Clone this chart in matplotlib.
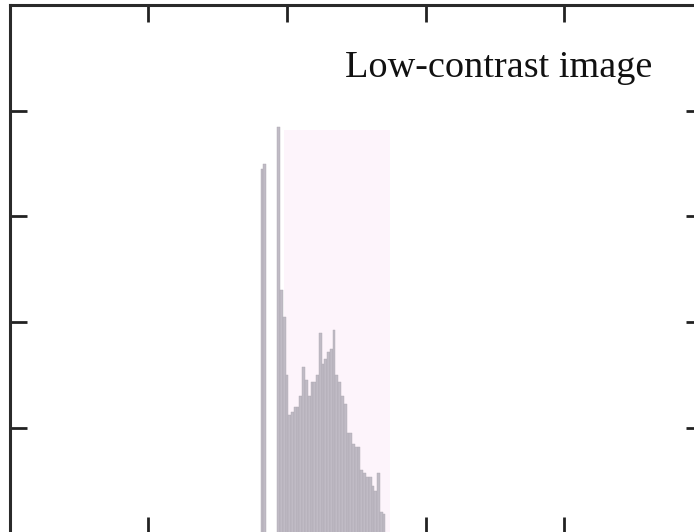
import numpy as np
import matplotlib.pyplot as plt

# histogram of the low-contrast image (grey level -> count, in thousands)
levels = list(range(91, 137))
counts = [3.45, 3.5, 0.0, 0.0, 0.0, 0.0, 3.85, 2.3, 2.05, 1.5,
          1.12, 1.15, 1.2, 1.2, 1.3, 1.58, 1.45, 1.3, 1.43, 1.43,
          1.5, 1.9, 1.6, 1.65, 1.72, 1.75, 1.93, 1.5, 1.43, 1.3,
          1.23, 0.95, 0.95, 0.85, 0.82, 0.82, 0.6, 0.57, 0.54, 0.54,
          0.45, 0.4, 0.57, 0.2, 0.19, 0.0]
span_lo, span_hi, span_top = 99, 137, 3.82

fig = plt.figure(figsize=(6.94, 5.32), dpi=100)
ax = fig.add_axes([0.0138, -0.003, 0.9992, 0.9936])

ax.axvspan(span_lo, span_hi, ymax=span_top / 5, color='#fdf4fb', lw=0, zorder=0)
ax.bar(levels, counts, width=1.0, color='#c0bbc5', edgecolor='#aca7b1',
       linewidth=0.3, zorder=2)

ax.set_xlim(0, 250)
ax.set_ylim(0, 5)
ax.set_xticks([50, 100, 150, 200])
ax.set_yticks([1, 2, 3, 4])
ax.tick_params(direction='in', length=12, width=2, color='#222222',
               top=True, right=True, labelbottom=False, labelleft=False)
for s in ax.spines.values():
    s.set_linewidth(2.2)
    s.set_color('#2a2a2a')

ax.text(0.4837, 0.8638, 'Low-contrast image', transform=ax.transAxes,
        ha='left', va='baseline', fontsize=27.5, family='Liberation Serif',
        color='#111111')

fig.savefig('out.png', dpi=100)
